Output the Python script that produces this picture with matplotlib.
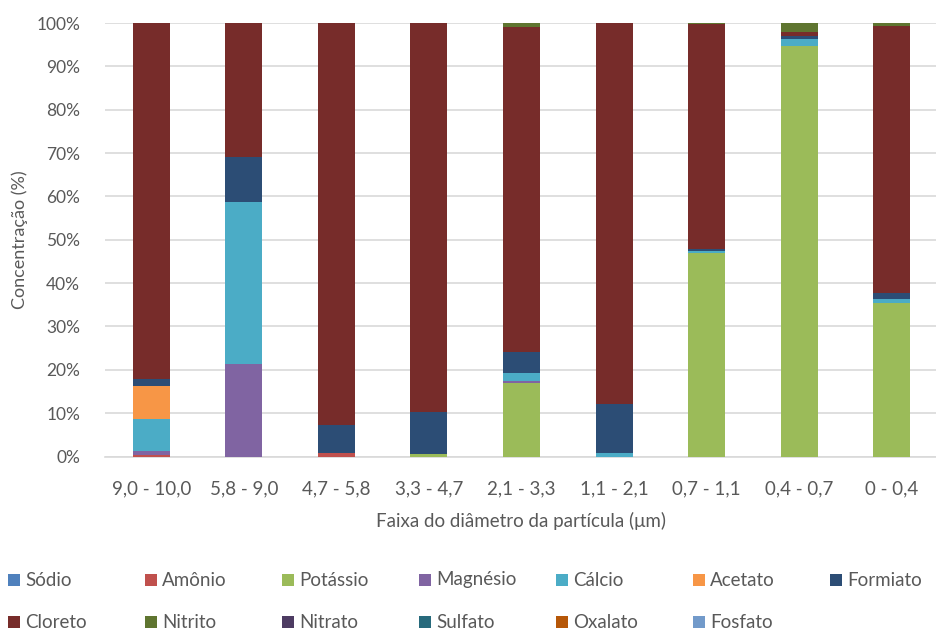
import numpy as np
import matplotlib
matplotlib.use("Agg")
import matplotlib.pyplot as plt
from matplotlib.patches import Rectangle

plt.rcParams['font.family'] = ['Lato', 'DejaVu Sans']

categories = ["9,0 - 10,0", "5,8 - 9,0", "4,7 - 5,8", "3,3 - 4,7", "2,1 - 3,3",
              "1,1 - 2,1", "0,7 - 1,1", "0,4 - 0,7", "0 - 0,4"]

series_names = ["Sódio", "Amônio", "Potássio", "Magnésio", "Cálcio", "Acetato", "Formiato",
                "Cloreto", "Nitrito", "Nitrato", "Sulfato", "Oxalato", "Fosfato"]

sodio    = [0.0, 0.0, 0.0, 0.0, 0.0, 0.0, 0.0, 0.0, 0.0]
amonio   = [0.4, 0.0, 0.8, 0.0, 0.0, 0.0, 0.0, 0.0, 0.0]
potassio = [0.0, 0.0, 0.0, 0.5, 16.9, 0.0, 46.9, 94.6, 35.4]
magnesio = [0.9, 21.3, 0.0, 0.0, 0.5, 0.0, 0.0, 0.0, 0.0]
calcio   = [7.4, 37.5, 0.0, 0.0, 1.9, 0.9, 0.5, 1.6, 1.0]
acetato  = [7.6, 0.0, 0.0, 0.0, 0.0, 0.0, 0.0, 0.0, 0.0]
formiato = [1.6, 10.3, 6.5, 9.7, 4.7, 11.2, 0.4, 0.8, 1.3]
cloreto  = [82.1, 30.9, 92.7, 89.8, 75.0, 87.9, 51.9, 1.0, 61.6]
nitrito  = [0.0, 0.0, 0.0, 0.0, 1.0, 0.0, 0.3, 2.0, 0.7]
nitrato  = [0.0, 0.0, 0.0, 0.0, 0.0, 0.0, 0.0, 0.0, 0.0]
sulfato  = [0.0, 0.0, 0.0, 0.0, 0.0, 0.0, 0.0, 0.0, 0.0]
oxalato  = [0.0, 0.0, 0.0, 0.0, 0.0, 0.0, 0.0, 0.0, 0.0]
fosfato  = [0.0, 0.0, 0.0, 0.0, 0.0, 0.0, 0.0, 0.0, 0.0]

series_values = [sodio, amonio, potassio, magnesio, calcio, acetato, formiato,
                 cloreto, nitrito, nitrato, sulfato, oxalato, fosfato]

colors = ["#4F81BD", "#C0504D", "#9BBB59", "#8064A2", "#4BACC6", "#F79646", "#2C4D75",
          "#772C2A", "#5F7530", "#4D3B62", "#276A7C", "#B65708", "#729ACA"]

ytick_labels = ["0%", "10%", "20%", "30%", "40%", "50%", "60%", "70%", "80%", "90%", "100%"]

text_color = "#595959"
grid_color = "#D9D9D9"

W, H = 936, 635
fig = plt.figure(figsize=(W / 100, H / 100), dpi=100)
ax = fig.add_axes([105 / W, 1 - 456.5 / H, (938 - 105) / W, (456.5 - 23) / H])

x = np.arange(len(categories))
vals = np.array(series_values, dtype=float)
totals = vals.sum(axis=0)
pct = vals / totals * 100.0
bottom = np.zeros(len(categories))
for name, v, c in zip(series_names, pct, colors):
    ax.bar(x, v, bottom=bottom, width=0.4, color=c, label=name, zorder=3, linewidth=0)
    bottom += v

ax.set_xlim(-0.5, len(categories) - 0.5)
ax.set_ylim(0, 100)
ax.set_yticks(np.arange(0, 101, 10))
ax.set_yticklabels(ytick_labels)
ax.set_xticks(x)
ax.set_xticklabels(categories)
ax.grid(axis='y', color=grid_color, linewidth=1.2, zorder=0)
ax.set_axisbelow(True)
for s in ["top", "right", "left"]:
    ax.spines[s].set_visible(False)
ax.spines["bottom"].set_color(grid_color)
ax.spines["bottom"].set_linewidth(1.2)
ax.tick_params(axis='y', length=0, colors=text_color, labelsize=12.5, pad=18)
ax.tick_params(axis='x', length=0, colors=text_color, labelsize=13.5, pad=17)

ax.set_ylabel("Concentração (%)", color=text_color, fontsize=13, labelpad=6)
ax.set_xlabel("Faixa do diâmetro da partícula (μm)", color=text_color, fontsize=13.5, labelpad=11)

# legend: two rows, evenly spaced columns
ncol = 7
x0, dx = 8, 137
rows_y = [580, 622]
sq = 12
for i, (name, c) in enumerate(zip(series_names, colors)):
    r, col = divmod(i, ncol)
    px = x0 + col * dx
    py = rows_y[r]
    fig.patches.append(Rectangle((px / W, 1 - (py + sq / 2) / H), sq / W, sq / H,
                                 transform=fig.transFigure, facecolor=c, edgecolor='none'))
    fig.text((px + sq + 5) / W, 1 - py / H, name, color=text_color, fontsize=13.5,
             va='center', ha='left')

fig.savefig("out.png", dpi=100)
